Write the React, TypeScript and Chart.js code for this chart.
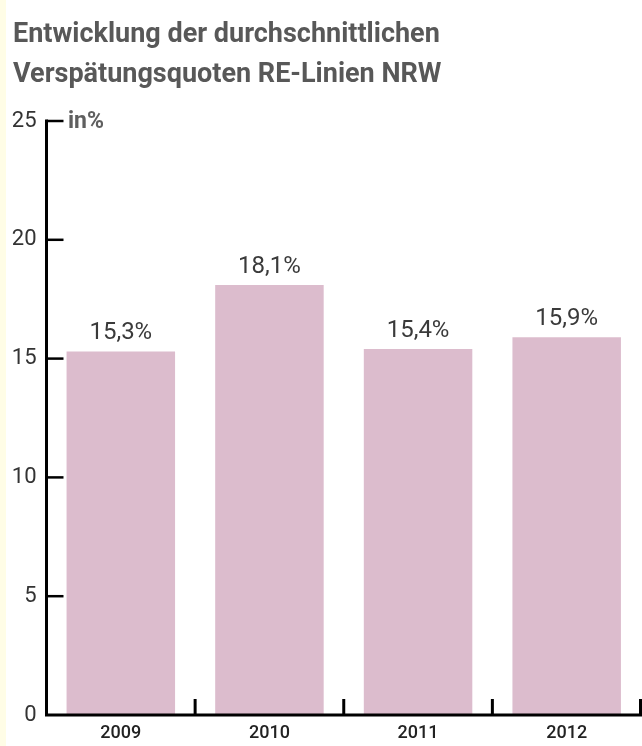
import React, { useEffect, useRef } from "react";
import { Chart, registerables } from "chart.js";

Chart.register(...registerables);

const titleLines = ["Entwicklung der durchschnittlichen", "Verspätungsquoten RE-Linien NRW"];
const unitLabel = "in%";
const categories = ["2009", "2010", "2011", "2012"];
const values = [15.3, 18.1, 15.4, 15.9];
const valueLabels = ["15,3%", "18,1%", "15,4%", "15,9%"];
const yMin = 0;
const yMax = 25;
const yStep = 5;

const BAR_COLOR = "#dcbccd";
const FONT = "Roboto, 'Noto Sans', sans-serif";

const decorPlugin = {
  id: "decor",
  beforeDraw(chart: any) {
    const { ctx, width, height } = chart;
    ctx.save();
    ctx.fillStyle = "#ffffff";
    ctx.fillRect(0, 0, width, height);
    ctx.fillStyle = "#fffde6";
    ctx.fillRect(0, 0, 6, height);
    ctx.restore();
  },
  afterDatasetsDraw(chart: any) {
    const { ctx } = chart;
    const xs = chart.scales.x;
    const ys = chart.scales.y;
    ctx.save();
    // title
    ctx.fillStyle = "#585858";
    ctx.font = `bold 27px ${FONT}`;
    ctx.textAlign = "left";
    ctx.textBaseline = "alphabetic";
    ctx.fillText(titleLines[0], 13, 42);
    ctx.fillText(titleLines[1], 13, 82);

    const axisX = xs.left;
    const axisY = ys.bottom;
    const topY = ys.getPixelForValue(yMax);
    ctx.strokeStyle = "#000000";
    ctx.lineCap = "butt";
    // y axis line
    ctx.lineWidth = 3;
    ctx.beginPath();
    ctx.moveTo(axisX, topY - 1.5);
    ctx.lineTo(axisX, axisY);
    ctx.stroke();
    // y ticks (inward)
    ctx.lineWidth = 2.5;
    for (let v = yMin + yStep; v <= yMax; v += yStep) {
      const py = ys.getPixelForValue(v);
      ctx.beginPath();
      ctx.moveTo(axisX, py);
      ctx.lineTo(axisX + 17, py);
      ctx.stroke();
    }
    // x axis line
    ctx.lineWidth = 3;
    ctx.beginPath();
    ctx.moveTo(axisX - 1.5, axisY);
    ctx.lineTo(xs.right + 1, axisY);
    ctx.stroke();
    // x category separators (inward)
    const half = (xs.getPixelForValue(1) - xs.getPixelForValue(0)) / 2;
    ctx.lineWidth = 3;
    for (let i = 0; i < categories.length; i++) {
      let px = xs.getPixelForValue(i) + half;
      if (i === categories.length - 1) px = Math.min(px, xs.right - 0.5);
      ctx.beginPath();
      ctx.moveTo(px, axisY);
      ctx.lineTo(px, axisY - 16);
      ctx.stroke();
    }

    // unit label
    ctx.fillStyle = "#5f5f5f";
    ctx.font = `bold 23px ${FONT}`;
    ctx.textAlign = "left";
    ctx.textBaseline = "alphabetic";
    ctx.fillText(unitLabel, 68, topY + 7);

    // value labels
    const meta = chart.getDatasetMeta(0);
    ctx.fillStyle = "#3a3a3a";
    ctx.font = `24px ${FONT}`;
    ctx.textAlign = "center";
    ctx.textBaseline = "alphabetic";
    meta.data.forEach((bar: any, i: number) => {
      ctx.fillText(valueLabels[i], bar.x, bar.y - 12);
    });
    ctx.restore();
  },
};

export default function App() {
  const ref = useRef<HTMLCanvasElement>(null);
  useEffect(() => {
    document.body.style.margin = "0";
    const canvas = ref.current!;
    const chart = new Chart(canvas, {
      type: "bar",
      data: {
        labels: categories,
        datasets: [
          {
            data: values,
            backgroundColor: BAR_COLOR,
            borderWidth: 0,
            barPercentage: 0.73,
            categoryPercentage: 1,
          },
        ],
      },
      options: {
        animation: false,
        responsive: false,
        maintainAspectRatio: false,
        devicePixelRatio: 1,
        layout: { padding: { top: 121, right: 1, left: 0, bottom: 0 } },
        plugins: {
          legend: { display: false },
          tooltip: { enabled: false },
          title: { display: false },
        },
        scales: {
          x: {
            type: "category",
            grid: { display: false, drawTicks: false },
            border: { display: false },
            ticks: {
              color: "#222222",
              font: { family: FONT, size: 18, weight: "500" as any },
              padding: 8,
              maxRotation: 0,
            },
            afterFit(scale: any) {
              scale.height = 31;
            },
          },
          y: {
            min: yMin,
            max: yMax,
            grid: { display: false, drawTicks: false },
            border: { display: false },
            ticks: {
              stepSize: yStep,
              color: "#333333",
              font: { family: FONT, size: 22 },
              padding: 10,
            },
            afterFit(scale: any) {
              scale.width = 46.5;
            },
          },
        },
      },
      plugins: [decorPlugin],
    });
    return () => chart.destroy();
  }, []);
  return <canvas ref={ref} width={642} height={746} style={{ display: "block" }} />;
}
